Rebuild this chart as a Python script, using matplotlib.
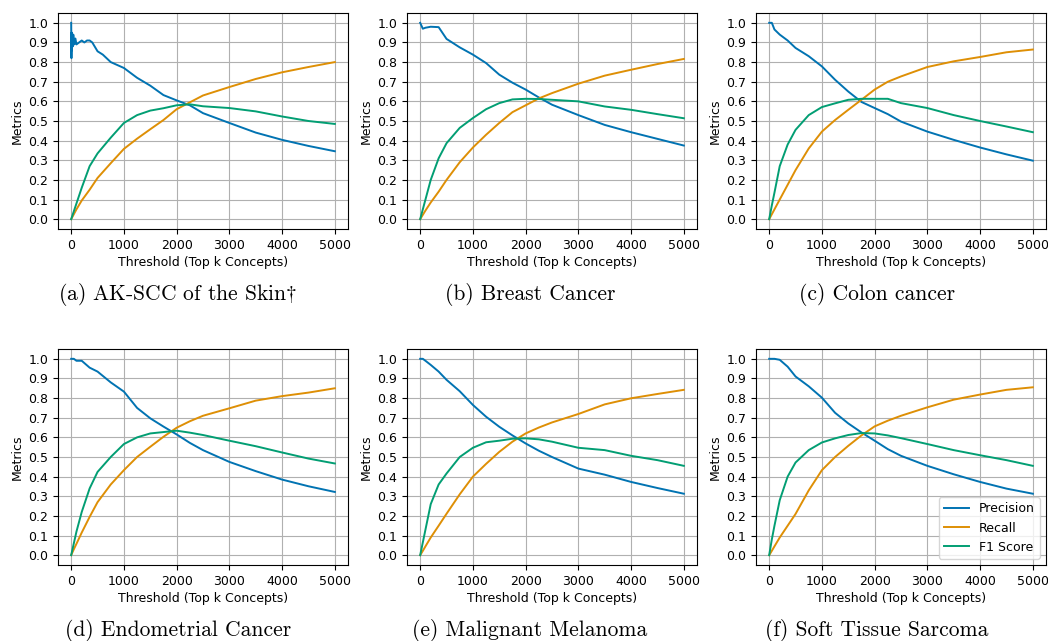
import numpy as np
import matplotlib
matplotlib.use("Agg")
import matplotlib.pyplot as plt

plt.rcParams['mathtext.fontset'] = 'cm'

# colours (seaborn colorblind)
c_prec = '#0173b2'
c_rec = '#de8f05'
c_f1 = '#029e73'

# common thresholds (top k concepts)
thresholds = [0, 50, 100, 200, 350, 500, 750, 1000, 1250, 1500, 1750, 2000,
              2250, 2500, 3000, 3500, 4000, 4500, 5000]

# AK-SCC precision is noisy at the start, so it has its own x values
thr_prec_a = [0, 5, 10, 15, 20, 30, 40, 60, 80, 100, 150, 200, 250, 300, 350,
              400, 500, 600, 750, 1000, 1250, 1500, 1750, 2000, 2250, 2500,
              3000, 3500, 4000, 4500, 5000]
prec_a = [1.0, 0.82, 0.95, 0.86, 0.93, 0.88, 0.94, 0.89, 0.92, 0.89, 0.90, 0.91,
          0.90, 0.91, 0.91, 0.90, 0.855, 0.838, 0.80, 0.77, 0.72, 0.68, 0.632,
          0.605, 0.58, 0.54, 0.49, 0.441, 0.404, 0.373, 0.346]
rec_a = [0, 0.025, 0.05, 0.095, 0.15, 0.21, 0.285, 0.358, 0.41, 0.458, 0.505, 0.56,
         0.595, 0.63, 0.673, 0.714, 0.748, 0.775, 0.80]
f1_a = [0, 0.04, 0.08, 0.16, 0.27, 0.335, 0.415, 0.49, 0.53, 0.553, 0.565, 0.58,
        0.585, 0.575, 0.566, 0.549, 0.523, 0.50, 0.485]

prec_b = [1.0, 0.97, 0.975, 0.98, 0.978, 0.918, 0.875, 0.838, 0.795, 0.736, 0.695,
          0.66, 0.62, 0.583, 0.53, 0.48, 0.443, 0.409, 0.375]
rec_b = [0, 0.022, 0.044, 0.085, 0.14, 0.2, 0.29, 0.365, 0.43, 0.49, 0.545, 0.58,
         0.615, 0.642, 0.69, 0.731, 0.761, 0.79, 0.816]
f1_b = [0, 0.05, 0.10, 0.20, 0.31, 0.387, 0.465, 0.515, 0.56, 0.591, 0.61, 0.613,
        0.612, 0.608, 0.60, 0.574, 0.557, 0.535, 0.514]

prec_c = [1.0, 1.0, 0.966, 0.94, 0.91, 0.872, 0.83, 0.778, 0.71, 0.65, 0.597,
          0.566, 0.535, 0.497, 0.446, 0.404, 0.365, 0.33, 0.298]
rec_c = [0, 0.025, 0.05, 0.1, 0.175, 0.25, 0.36, 0.446, 0.505, 0.557, 0.608, 0.66,
         0.70, 0.727, 0.775, 0.804, 0.826, 0.85, 0.864]
f1_c = [0, 0.07, 0.135, 0.27, 0.38, 0.455, 0.53, 0.571, 0.59, 0.608, 0.613, 0.613,
        0.613, 0.591, 0.566, 0.53, 0.50, 0.472, 0.443]

prec_d = [1.0, 1.0, 0.99, 0.99, 0.955, 0.935, 0.88, 0.833, 0.75, 0.697, 0.655,
          0.615, 0.572, 0.535, 0.475, 0.428, 0.385, 0.351, 0.322]
rec_d = [0, 0.03, 0.058, 0.115, 0.195, 0.27, 0.36, 0.433, 0.50, 0.552, 0.603, 0.649,
         0.682, 0.71, 0.748, 0.787, 0.81, 0.828, 0.85]
f1_d = [0, 0.06, 0.12, 0.22, 0.34, 0.424, 0.50, 0.566, 0.60, 0.62, 0.627, 0.634,
        0.624, 0.612, 0.583, 0.555, 0.523, 0.492, 0.467]

prec_e = [1.0, 1.0, 0.99, 0.969, 0.935, 0.893, 0.835, 0.765, 0.705, 0.654, 0.61,
          0.569, 0.532, 0.50, 0.441, 0.41, 0.373, 0.342, 0.313]
rec_e = [0, 0.022, 0.045, 0.09, 0.15, 0.211, 0.31, 0.40, 0.465, 0.526, 0.578, 0.62,
         0.65, 0.676, 0.719, 0.768, 0.799, 0.821, 0.842]
f1_e = [0, 0.065, 0.13, 0.26, 0.36, 0.416, 0.50, 0.547, 0.575, 0.583, 0.593, 0.595,
        0.59, 0.578, 0.547, 0.535, 0.506, 0.484, 0.455]

prec_f = [1.0, 1.0, 1.0, 0.995, 0.96, 0.91, 0.86, 0.802, 0.725, 0.671, 0.625,
          0.583, 0.54, 0.506, 0.455, 0.412, 0.373, 0.339, 0.313]
rec_f = [0, 0.022, 0.045, 0.09, 0.15, 0.21, 0.33, 0.433, 0.50, 0.557, 0.61, 0.656,
         0.685, 0.71, 0.753, 0.792, 0.818, 0.842, 0.855]
f1_f = [0, 0.08, 0.15, 0.28, 0.40, 0.472, 0.535, 0.574, 0.595, 0.612, 0.622, 0.62,
        0.61, 0.596, 0.566, 0.535, 0.509, 0.484, 0.455]

captions = ['(a) AK-SCC of the Skin$\\dagger$', '(b) Breast Cancer', '(c) Colon cancer',
            '(d) Endometrial Cancer', '(e) Malignant Melanoma', '(f) Soft Tissue Sarcoma']

panels = [
    (thr_prec_a, prec_a, rec_a, f1_a),
    (thresholds, prec_b, rec_b, f1_b),
    (thresholds, prec_c, rec_c, f1_c),
    (thresholds, prec_d, rec_d, f1_d),
    (thresholds, prec_e, rec_e, f1_e),
    (thresholds, prec_f, rec_f, f1_f),
]

W, H = 1048, 641
fig = plt.figure(figsize=(W / 100, H / 100), dpi=100)

lefts = [58, 407, 756]
tops = [13, 349]
aw, ah = 290, 216
cap_y = [295, 630]
cap_x = [178, 530, 877]
fs = 9

for i, (tp, p, r, f) in enumerate(panels):
    row, col = divmod(i, 3)
    l, t = lefts[col], tops[row]
    ax = fig.add_axes([l / W, 1 - (t + ah) / H, aw / W, ah / H])
    ax.plot(tp, p, color=c_prec, lw=1.4, label='Precision')
    ax.plot(thresholds, r, color=c_rec, lw=1.4, label='Recall')
    ax.plot(thresholds, f, color=c_f1, lw=1.4, label='F1 Score')
    ax.set_yticks(np.arange(0, 1.01, 0.1))
    ax.set_xticks([0, 1000, 2000, 3000, 4000, 5000])
    ax.tick_params(labelsize=fs)
    ax.grid(True)
    ax.set_xlabel('Threshold (Top k Concepts)', fontsize=fs, labelpad=3)
    ax.set_ylabel('Metrics', fontsize=fs, labelpad=3)
    if i == 5:
        ax.legend(loc='lower right', fontsize=fs)
    fig.text(cap_x[col] / W, 1 - cap_y[row] / H, captions[i], ha='center', va='center',
             fontsize=15.5, family='cmr10')

fig.savefig('out.png', dpi=100)
